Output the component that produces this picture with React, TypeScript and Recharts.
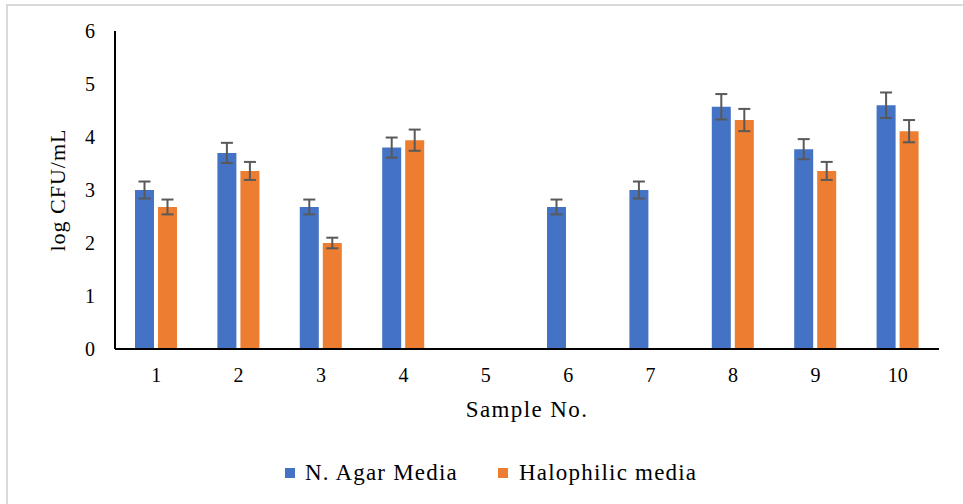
import React from 'react';
import { BarChart, Bar, XAxis, YAxis, ErrorBar, Label } from 'recharts';

const samples = ['1', '2', '3', '4', '5', '6', '7', '8', '9', '10'];
const nAgar = [3.0, 3.7, 2.68, 3.8, null, 2.68, 3.0, 4.57, 3.77, 4.6];
const nAgarErr = [0.16, 0.19, 0.14, 0.19, null, 0.14, 0.16, 0.24, 0.19, 0.24];
const halo = [2.68, 3.36, 2.0, 3.94, null, null, null, 4.32, 3.36, 4.11];
const haloErr = [0.14, 0.17, 0.1, 0.2, null, null, null, 0.21, 0.17, 0.21];
const yTicks = [0, 1, 2, 3, 4, 5, 6];

const seriesNames = ['N. Agar Media', 'Halophilic media'];
const BLUE = '#4472C4';
const ORANGE = '#ED7D31';
const FONT = '"Liberation Serif", "Times New Roman", serif';

const data = samples.map((s, i) => ({
  sample: s,
  nAgar: nAgar[i],
  nAgarErr: nAgarErr[i],
  halo: halo[i],
  haloErr: haloErr[i],
}));

const YLabel = (props: any) => {
  const vb = props.viewBox || {};
  const cy = (vb.y ?? 31) + (vb.height ?? 318) / 2;
  return (
    <text
      x={65}
      y={cy}
      transform={`rotate(-90, 65, ${cy})`}
      textAnchor="middle"
      fontFamily={FONT}
      fontSize={22}
      letterSpacing={1}
      fill="#000"
    >
      log CFU/mL
    </text>
  );
};

export default function App() {
  return (
    <div
      style={{
        position: 'absolute',
        left: 0,
        top: 0,
        width: 963,
        height: 504,
        background: '#fff',
        overflow: 'hidden',
        fontFamily: FONT,
      }}
    >
      <div
        style={{
          position: 'absolute',
          left: 6,
          top: 4,
          width: 1000,
          height: 600,
          borderTop: '2px solid #d9d9d9',
          borderLeft: '2px solid #d9d9d9',
        }}
      />
      <div style={{ position: 'absolute', left: 0, top: 0 }}>
        <BarChart
          width={963}
          height={504}
          data={data}
          margin={{ top: 31, right: 24, bottom: 105, left: 55 }}
          barSize={19}
          barGap={4}
        >
          <XAxis
            dataKey="sample"
            height={50}
            axisLine={{ stroke: '#000', strokeWidth: 2 }}
            tickLine={false}
            tickSize={0}
            tickMargin={19}
            tick={{ fill: '#000', fontSize: 20, fontFamily: FONT }}
          >
            <Label
              value="Sample No."
              position="bottom"
              offset={2}
              style={{ fill: '#000', fontSize: 23, fontFamily: FONT, letterSpacing: 1.4 }}
            />
          </XAxis>
          <YAxis
            width={60}
            domain={[0, 6]}
            ticks={yTicks}
            interval={0}
            axisLine={{ stroke: '#000', strokeWidth: 2 }}
            tickLine={false}
            tickSize={0}
            tickMargin={20}
            tick={{ fill: '#000', fontSize: 20, fontFamily: FONT }}
          >
            <Label content={<YLabel />} />
          </YAxis>
          <Bar dataKey="nAgar" name={seriesNames[0]} fill={BLUE} isAnimationActive={false}>
            <ErrorBar dataKey="nAgarErr" width={6} stroke="#595959" strokeWidth={2} direction="y" isAnimationActive={false} />
          </Bar>
          <Bar dataKey="halo" name={seriesNames[1]} fill={ORANGE} isAnimationActive={false}>
            <ErrorBar dataKey="haloErr" width={6} stroke="#595959" strokeWidth={2} direction="y" isAnimationActive={false} />
          </Bar>
        </BarChart>
      </div>
      <div style={{ position: 'absolute', left: 285, top: 461, height: 24, display: 'flex', alignItems: 'center' }}>
        <span style={{ display: 'inline-block', width: 10, height: 10, background: BLUE, marginRight: 10 }} />
        <span style={{ fontSize: 23, letterSpacing: 1.2, color: '#000', whiteSpace: 'nowrap' }}>{seriesNames[0]}</span>
      </div>
      <div style={{ position: 'absolute', left: 498, top: 461, height: 24, display: 'flex', alignItems: 'center' }}>
        <span style={{ display: 'inline-block', width: 10, height: 10, background: ORANGE, marginRight: 11 }} />
        <span style={{ fontSize: 23, letterSpacing: 1.2, color: '#000', whiteSpace: 'nowrap' }}>{seriesNames[1]}</span>
      </div>
    </div>
  );
}
